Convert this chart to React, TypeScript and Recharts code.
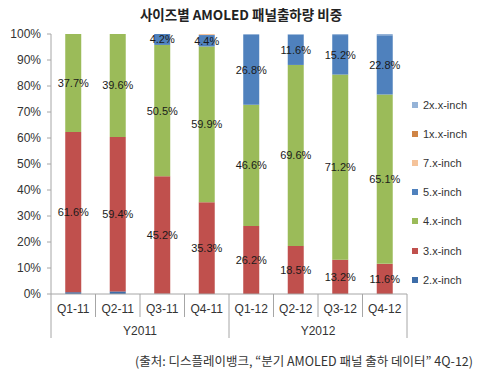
import { BarChart, Bar, XAxis, YAxis, Legend, LabelList } from "recharts";

const quarters = ["Q1-11", "Q2-11", "Q3-11", "Q4-11", "Q1-12", "Q2-12", "Q3-12", "Q4-12"];
const years = ["Y2011", "Y2011", "Y2011", "Y2011", "Y2012", "Y2012", "Y2012", "Y2012"];

// share per size class (%)
const inch2 = [0.7, 1.0, 0.1, 0, 0, 0, 0, 0];
const inch3 = [61.6, 59.4, 45.2, 35.3, 26.2, 18.5, 13.2, 11.6];
const inch4 = [37.7, 39.6, 50.5, 59.9, 46.6, 69.6, 71.2, 65.1];
const inch5 = [0, 0, 4.2, 4.4, 26.8, 11.6, 15.2, 22.8];
const inch7 = [0, 0, 0, 0.4, 0, 0, 0, 0];
const inch1x = [0, 0, 0, 0, 0, 0, 0, 0];
const inch2x = [0, 0, 0, 0, 0.4, 0.3, 0.4, 0.5];

const yTicks = [0, 0.1, 0.2, 0.3, 0.4, 0.5, 0.6, 0.7, 0.8, 0.9, 1];

// bottom to top
const series = [
  { key: "s2", name: "2.x-inch", color: "#3d6da8", values: inch2 },
  { key: "s3", name: "3.x-inch", color: "#c0504d", values: inch3 },
  { key: "s4", name: "4.x-inch", color: "#9bbb59", values: inch4 },
  { key: "s5", name: "5.x-inch", color: "#4f81bd", values: inch5 },
  { key: "s7", name: "7.x-inch", color: "#f5c39a", values: inch7 },
  { key: "s1x", name: "1x.x-inch", color: "#cf8445", values: inch1x },
  { key: "s2x", name: "2x.x-inch", color: "#95b3d7", values: inch2x },
];

const data = quarters.map((q, i) => {
  const row: Record<string, string | number> = { q, year: years[i] };
  series.forEach((s) => {
    row[s.key] = s.values[i];
  });
  return row;
});

const font = "'Liberation Sans', Arial, sans-serif";
const kfont = "'Noto Sans CJK KR', sans-serif";
const lineColor = "#a6a6a6";

const renderLabel = (props: any) => {
  const { x, y, width, height, value } = props;
  if (value == null || value < 4) return null;
  return (
    <text
      x={x + width / 2}
      y={y + height / 2}
      dy={4}
      textAnchor="middle"
      fontSize={11}
      fontFamily={font}
      fill="#1a1a1a"
    >
      {Number(value).toFixed(1)}%
    </text>
  );
};

const QuarterTick = (props: any) => {
  const { x, y, payload, index, width, visibleTicksCount } = props;
  const half = payload?.offset || width / visibleTicksCount / 2;
  const yearStart = index === 0 || years[index] !== years[index - 1];
  const last = index === visibleTicksCount - 1;
  return (
    <g>
      <line x1={x - half} y1={y} x2={x - half} y2={y + (yearStart ? 44 : 23)} stroke={lineColor} />
      {last && <line x1={x + half} y1={y} x2={x + half} y2={y + 44} stroke={lineColor} />}
      <text x={x} y={y + 19} textAnchor="middle" fontSize={12} fontFamily={font} fill="#333">
        {payload.value}
      </text>
    </g>
  );
};

const YearTick = (props: any) => {
  const { x, y, payload } = props;
  return (
    <text x={x} y={y + 19} textAnchor="middle" fontSize={12} fontFamily={font} fill="#333">
      {payload.value}
    </text>
  );
};

const renderLegend = () => (
  <div style={{ fontFamily: font, fontSize: 11, color: "#333" }}>
    {[...series].reverse().map((s) => (
      <div key={s.key} style={{ display: "flex", alignItems: "center", height: 29.2 }}>
        <span style={{ width: 6, height: 6, background: s.color, display: "inline-block" }} />
        <span style={{ marginLeft: 5 }}>{s.name}</span>
      </div>
    ))}
  </div>
);

export default function App() {
  return (
    <div style={{ position: "absolute", left: 0, top: 0, width: 480, height: 380, background: "#fff" }}>
      <div
        style={{
          position: "absolute",
          top: 4,
          left: 0,
          width: 482,
          textAlign: "center",
          fontFamily: kfont,
          fontWeight: 700,
          fontSize: 13.5,
          color: "#222",
        }}
      >
        사이즈별 AMOLED 패널출하량 비중
      </div>
      <BarChart
        width={480}
        height={380}
        data={data}
        stackOffset="expand"
        barCategoryGap="32%"
        margin={{ top: 34, right: 73, bottom: 42, left: 8 }}
      >
        <XAxis
          dataKey="q"
          height={22}
          axisLine={{ stroke: lineColor }}
          tickLine={false}
          tickSize={0}
          tickMargin={0}
          interval={0}
          tick={<QuarterTick />}
        />
        <XAxis
          xAxisId="year"
          dataKey="year"
          allowDuplicatedCategory={false}
          height={22}
          axisLine={false}
          tickLine={false}
          tickSize={0}
          tickMargin={0}
          interval={0}
          tick={<YearTick />}
        />
        <YAxis
          width={43}
          domain={[0, 1]}
          ticks={yTicks}
          interval={0}
          tickFormatter={(v: number) => `${Math.round(v * 100)}%`}
          axisLine={{ stroke: lineColor }}
          tickLine={{ stroke: lineColor }}
          tickSize={4}
          tickMargin={6}
          tick={{ fontSize: 12, fontFamily: font, fill: "#333" }}
        />
        {series.map((s) => (
          <Bar key={s.key} dataKey={s.key} name={s.name} stackId="a" fill={s.color} isAnimationActive={false}>
            <LabelList dataKey={s.key} content={renderLabel} />
          </Bar>
        ))}
        <Legend
          layout="vertical"
          align="center"
          verticalAlign="middle"
          content={renderLegend}
          wrapperStyle={{ left: 412, top: 90, width: 68 }}
        />
      </BarChart>
      <div
        style={{
          position: "absolute",
          top: 351,
          right: 7,
          fontFamily: kfont,
          fontSize: 12.5,
          color: "#333",
          whiteSpace: "nowrap",
        }}
      >
        (출처: 디스플레이뱅크, “분기 AMOLED 패널 출하 데이터” 4Q-12)
      </div>
    </div>
  );
}
